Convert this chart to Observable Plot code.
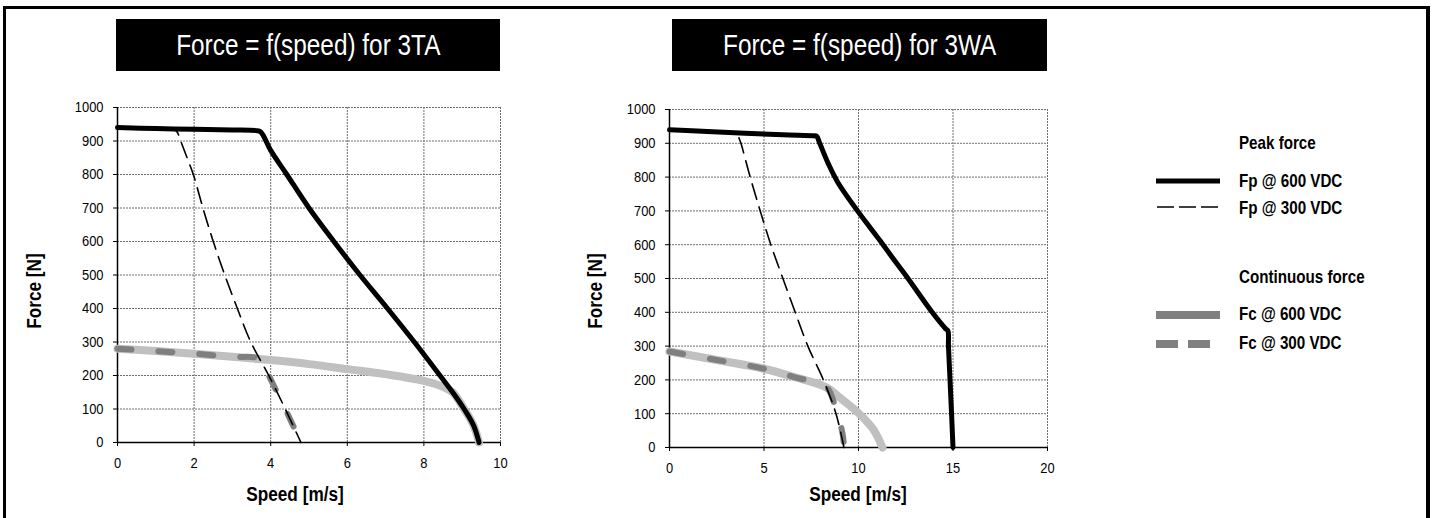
<!DOCTYPE html>
<html><head><meta charset="utf-8">
<script src="https://cdn.jsdelivr.net/npm/d3@7"></script>
<script src="https://cdn.jsdelivr.net/npm/@observablehq/plot@0.6"></script>
<style>
body{margin:0;background:#fff;}
#wrap{position:relative;width:1434px;height:518px;overflow:hidden;background:#fff;font-family:"Liberation Sans Narrow","Arial Narrow","Liberation Sans",Arial,sans-serif;color:#000;}
#wrap svg.plot{position:absolute;top:0;}
.title{position:absolute;background:#000;color:#fff;font-size:29px;display:flex;align-items:center;justify-content:center;white-space:nowrap;}
.title span{display:inline-block;transform:scaleX(0.84);}
.axt{position:absolute;font-weight:bold;font-size:20px;white-space:nowrap;transform:translate(-50%,-50%) scaleX(0.86);}
.rot{transform:translate(-50%,-50%) rotate(-90deg) scaleX(0.86);}
.leg{position:absolute;font-weight:bold;font-size:18.5px;white-space:nowrap;transform:translateY(-50%) scaleX(0.82);transform-origin:0 50%;}
#border{position:absolute;left:3px;top:6px;width:1420px;height:600px;border-top:3px solid #000;border-left:3px solid #000;border-right:4px solid #000;}
</style></head>
<body>
<div id="wrap"></div>
<script>
// ---------- data ----------
const titles = ["Force = f(speed) for 3TA", "Force = f(speed) for 3WA"];
const xLabel = "Speed [m/s]";
const yLabel = "Force [N]";
const yTicks = [0,100,200,300,400,500,600,700,800,900,1000];
const xTicks3TA = [0,2,4,6,8,10];
const xTicks3WA = [0,5,10,15,20];

// 3TA
const speed3TA_Fp600 = [0,1,2,3,3.62,3.74,4.0,4.42,5.0,5.65,6.33,7.05,7.75,8.42,8.75,9.05,9.3,9.44];
const force3TA_Fp600 = [940,937,935,933,931,927,872,800,700,600,500,400,300,200,150,100,50,0];
const speed3TA_Fp300 = [0,1,1.45,1.55,1.65,1.8,1.98,2.23,2.5,2.8,3.13,3.48,3.95,4.38,4.79];
const force3TA_Fp300 = [940,937,935,928,900,855,800,700,600,500,400,300,200,100,0];
const speed3TA_Fc600 = [0,1,2,3,4,5,6,7,8,8.5,8.75,9.05,9.3,9.44];
const force3TA_Fc600 = [280,273,265,256,246,234,219,204,184,166,150,100,50,0];
const speed3TA_Fc300 = [0,1,2,3,3.75,3.95,4.38,4.79];
const force3TA_Fc300 = [280,273,265,256,248,200,100,0];

// 3WA
const speed3WA_Fp600 = [0,2,4,6,7.65,7.79,7.95,8.4,8.9,9.95,10.62,11.3,11.95,12.62,13.9,14.6,14.73,14.76,14.9,15.0];
const force3WA_Fp600 = [940,935,930,925,922,921,900,840,785,700,650,600,550,500,400,352,345,300,130,0];
const speed3WA_Fp300 = [0,2,3.57,3.7,3.78,4.27,4.8,5.36,6.0,6.65,7.32,8.14,8.81,9.23];
const force3WA_Fp300 = [940,935,927,912,900,800,700,600,500,400,300,200,100,0];
const speed3WA_Fc600 = [0,2.5,5,6.5,8.3,9,10,10.78,11.27];
const force3WA_Fc600 = [284,259,233,210,178,148,102,54,0];
const speed3WA_Fc300 = [0,2.5,5,6.5,8.3,8.67,9.16,9.23];
const force3WA_Fc300 = [284,259,233,210,178,138,40,0];

const legendGroups = ["Peak force", "Continuous force"];
const legendItems = ["Fp @ 600 VDC", "Fp @ 300 VDC", "Fc @ 600 VDC", "Fc @ 300 VDC"];

// ---------- drawing ----------
const FONT = '"Liberation Sans Narrow","Arial Narrow","Liberation Sans",Arial,sans-serif';
const series = (s, f) => s.map((v, i) => ({speed: v, force: f[i]}));

function forceChart({xTicks, fp600, fp300, fc600, fc300, width, height, mL, mR, mT, mB}) {
  const xMax = xTicks[xTicks.length - 1];
  const grid = {stroke: "#6e6e6e", strokeOpacity: 1, strokeWidth: 1, strokeDasharray: "2,1"};
  return Plot.plot({
    width, height,
    marginLeft: mL, marginRight: mR, marginTop: mT, marginBottom: mB,
    style: {fontFamily: FONT, fontSize: "15px", background: "transparent", color: "#000", overflow: "visible"},
    x: {domain: [0, xMax]},
    y: {domain: [0, 1000]},
    marks: [
      Plot.gridX(xTicks, grid),
      Plot.gridY(yTicks, grid),
      Plot.axisX(xTicks, {tickSize: 4, tickPadding: 11, tickFormat: d => String(d), label: null}),
      Plot.axisY(yTicks, {tickSize: 4, tickPadding: 10, tickFormat: d => String(d), label: null}),
      Plot.ruleY([0], {stroke: "#000", strokeWidth: 1.5}),
      Plot.ruleX([0], {stroke: "#000", strokeWidth: 1.5}),
      Plot.line(fc600, {x: "speed", y: "force", stroke: "#c0c0c0", strokeWidth: 8, curve: "catmull-rom", strokeLinecap: "round", strokeLinejoin: "round"}),
      Plot.line(fc300, {x: "speed", y: "force", stroke: "#7f7f7f", strokeWidth: 6, curve: "catmull-rom", strokeDasharray: "14,27", strokeLinecap: "round"}),
      Plot.line(fp300, {x: "speed", y: "force", stroke: "#000", strokeWidth: 1.6, curve: "catmull-rom", strokeDasharray: "16,8"}),
      Plot.line(fp600, {x: "speed", y: "force", stroke: "#000", strokeWidth: 5, curve: "catmull-rom", strokeLinejoin: "round", strokeLinecap: "round"})
    ]
  });
}

const wrap = document.getElementById("wrap");

function condense(svg, f) {
  svg.querySelectorAll("text").forEach(t => {
    const len = t.getComputedTextLength();
    if (len > 0) { t.setAttribute("textLength", len * f); t.setAttribute("lengthAdjust", "spacingAndGlyphs"); }
  });
}

const c1 = forceChart({
  xTicks: xTicks3TA,
  fp600: series(speed3TA_Fp600, force3TA_Fp600),
  fp300: series(speed3TA_Fp300, force3TA_Fp300),
  fc600: series(speed3TA_Fc600, force3TA_Fc600),
  fc300: series(speed3TA_Fc300, force3TA_Fc300),
  width: 520, height: 518, mL: 117, mR: 20, mT: 107, mB: 76
});
c1.classList.add("plot"); c1.style.left = "0px";
wrap.appendChild(c1);
condense(c1, 0.86);

const c2 = forceChart({
  xTicks: xTicks3WA,
  fp600: series(speed3WA_Fp600, force3WA_Fp600),
  fp300: series(speed3WA_Fp300, force3WA_Fp300),
  fc600: series(speed3WA_Fc600, force3WA_Fc600),
  fc300: series(speed3WA_Fc300, force3WA_Fc300),
  width: 520, height: 518, mL: 109, mR: 33, mT: 109, mB: 71
});
c2.classList.add("plot"); c2.style.left = "560px";
wrap.appendChild(c2);
condense(c2, 0.86);

function addDiv(cls, text, css, inner) {
  const d = document.createElement("div");
  d.className = cls;
  if (inner) { const s = document.createElement("span"); s.textContent = text; d.appendChild(s); }
  else d.textContent = text;
  Object.assign(d.style, css);
  wrap.appendChild(d);
  return d;
}

// titles
addDiv("title", titles[0], {left: "116px", top: "19px", width: "384px", height: "52px"}, true);
addDiv("title", titles[1], {left: "672px", top: "19px", width: "375px", height: "52px"}, true);

// axis titles
addDiv("axt rot", yLabel, {left: "34px", top: "291px"});
addDiv("axt rot", yLabel, {left: "595px", top: "291px"});
addDiv("axt", xLabel, {left: "295px", top: "494px"});
addDiv("axt", xLabel, {left: "858px", top: "494px"});

// legend
const lg = d3.select(wrap).append("svg")
  .attr("width", 1434).attr("height", 518)
  .style("position", "absolute").style("left", "0px").style("top", "0px");
lg.append("line").attr("x1", 1156).attr("x2", 1220).attr("y1", 181).attr("y2", 181)
  .attr("stroke", "#000").attr("stroke-width", 5);
lg.append("line").attr("x1", 1157).attr("x2", 1218).attr("y1", 207).attr("y2", 207)
  .attr("stroke", "#000").attr("stroke-width", 1.6).attr("stroke-dasharray", "17,5");
lg.append("line").attr("x1", 1156).attr("x2", 1220).attr("y1", 315).attr("y2", 315)
  .attr("stroke", "#808080").attr("stroke-width", 8);
lg.append("line").attr("x1", 1156).attr("x2", 1211).attr("y1", 344).attr("y2", 344)
  .attr("stroke", "#808080").attr("stroke-width", 8).attr("stroke-dasharray", "22,10");

addDiv("leg", legendGroups[0], {left: "1239px", top: "143px"});
addDiv("leg", legendItems[0], {left: "1239px", top: "181px"});
addDiv("leg", legendItems[1], {left: "1239px", top: "208px"});
addDiv("leg", legendGroups[1], {left: "1239px", top: "277px"});
addDiv("leg", legendItems[2], {left: "1239px", top: "314px"});
addDiv("leg", legendItems[3], {left: "1239px", top: "343px"});

// outer frame
const b = document.createElement("div"); b.id = "border"; wrap.appendChild(b);
</script>
</body></html>
